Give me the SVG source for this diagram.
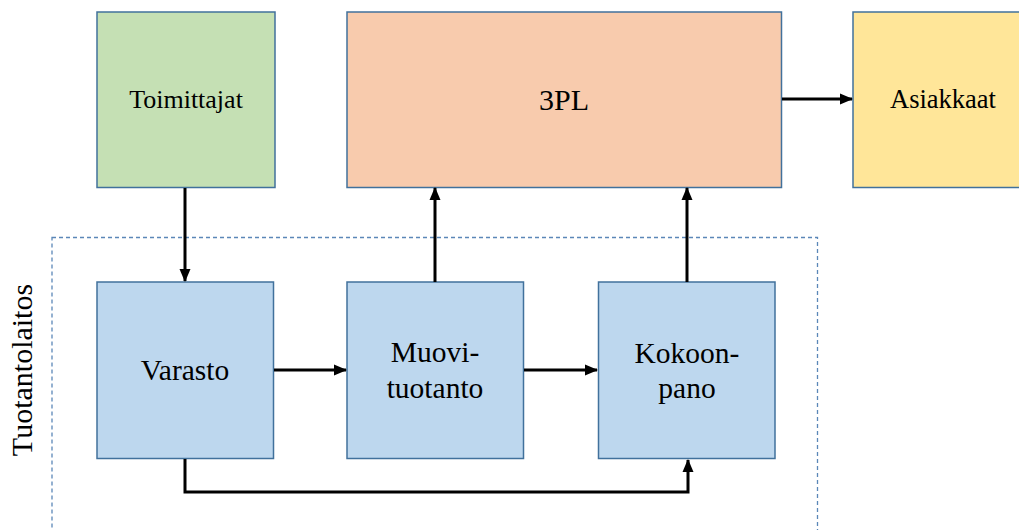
<svg xmlns="http://www.w3.org/2000/svg" width="1019" height="530" viewBox="0 0 1019 530">
<defs>
<style>
.box{stroke:#41719C;stroke-width:1.5}
.t{fill:#000;text-anchor:middle}
.c{fill:none;stroke:#000;stroke-width:3}
</style>
<marker id="ah" markerUnits="userSpaceOnUse" markerWidth="13" markerHeight="13" viewBox="0 0 13 13" refX="12" refY="6.5" orient="auto">
<path d="M0,1 L13,6.5 L0,12 Z" fill="#000"/>
</marker>
</defs>
<rect width="1019" height="530" fill="#fff"/>
<g font-family="Liberation Serif, Times New Roman, serif">
<g id="tuotantolaitos">
<rect x="52" y="237.5" width="765.5" height="300" fill="none" stroke="#5B87B8" stroke-width="1.3" stroke-dasharray="4,3"/>
<text class="t" font-size="30" transform="translate(32,370) rotate(-90)">Tuotantolaitos</text>
</g>
<g id="toimittajat">
<rect class="box" x="97" y="12" width="178" height="175.5" fill="#C5E0B4"/>
<text class="t" x="186" y="108" font-size="26">Toimittajat</text>
</g>
<g id="3pl">
<rect class="box" x="347" y="12" width="434.5" height="175.5" fill="#F8CBAD"/>
<text class="t" x="564" y="110" font-size="30">3PL</text>
</g>
<g id="asiakkaat">
<rect class="box" x="853" y="12" width="180" height="175.5" fill="#FFE699"/>
<text class="t" x="943" y="108" font-size="26.5">Asiakkaat</text>
</g>
<g id="varasto">
<rect class="box" x="97" y="282" width="176.5" height="176.5" fill="#BDD7EE"/>
<text class="t" x="185" y="380" font-size="29.5">Varasto</text>
</g>
<g id="muovituotanto">
<rect class="box" x="347" y="282" width="176.5" height="176.5" fill="#BDD7EE"/>
<text class="t" x="435" y="362" font-size="29.5">Muovi-</text>
<text class="t" x="435" y="398" font-size="29.5">tuotanto</text>
</g>
<g id="kokoonpano">
<rect class="box" x="598.5" y="282" width="176.5" height="176.5" fill="#BDD7EE"/>
<text class="t" x="687" y="363" font-size="29.5">Kokoon-</text>
<text class="t" x="687" y="398" font-size="29.5">pano</text>
</g>
</g>
<g id="connectors">
<path class="c" d="M185,188 V281" marker-end="url(#ah)"/>
<path class="c" d="M274,370 H346" marker-end="url(#ah)"/>
<path class="c" d="M524,370 H597" marker-end="url(#ah)"/>
<path class="c" d="M435,282 V188" marker-end="url(#ah)"/>
<path class="c" d="M687,282 V188" marker-end="url(#ah)"/>
<path class="c" d="M782,99 H852" marker-end="url(#ah)"/>
<path class="c" d="M185,459 V492 H688 V460" marker-end="url(#ah)"/>
</g>
</svg>
